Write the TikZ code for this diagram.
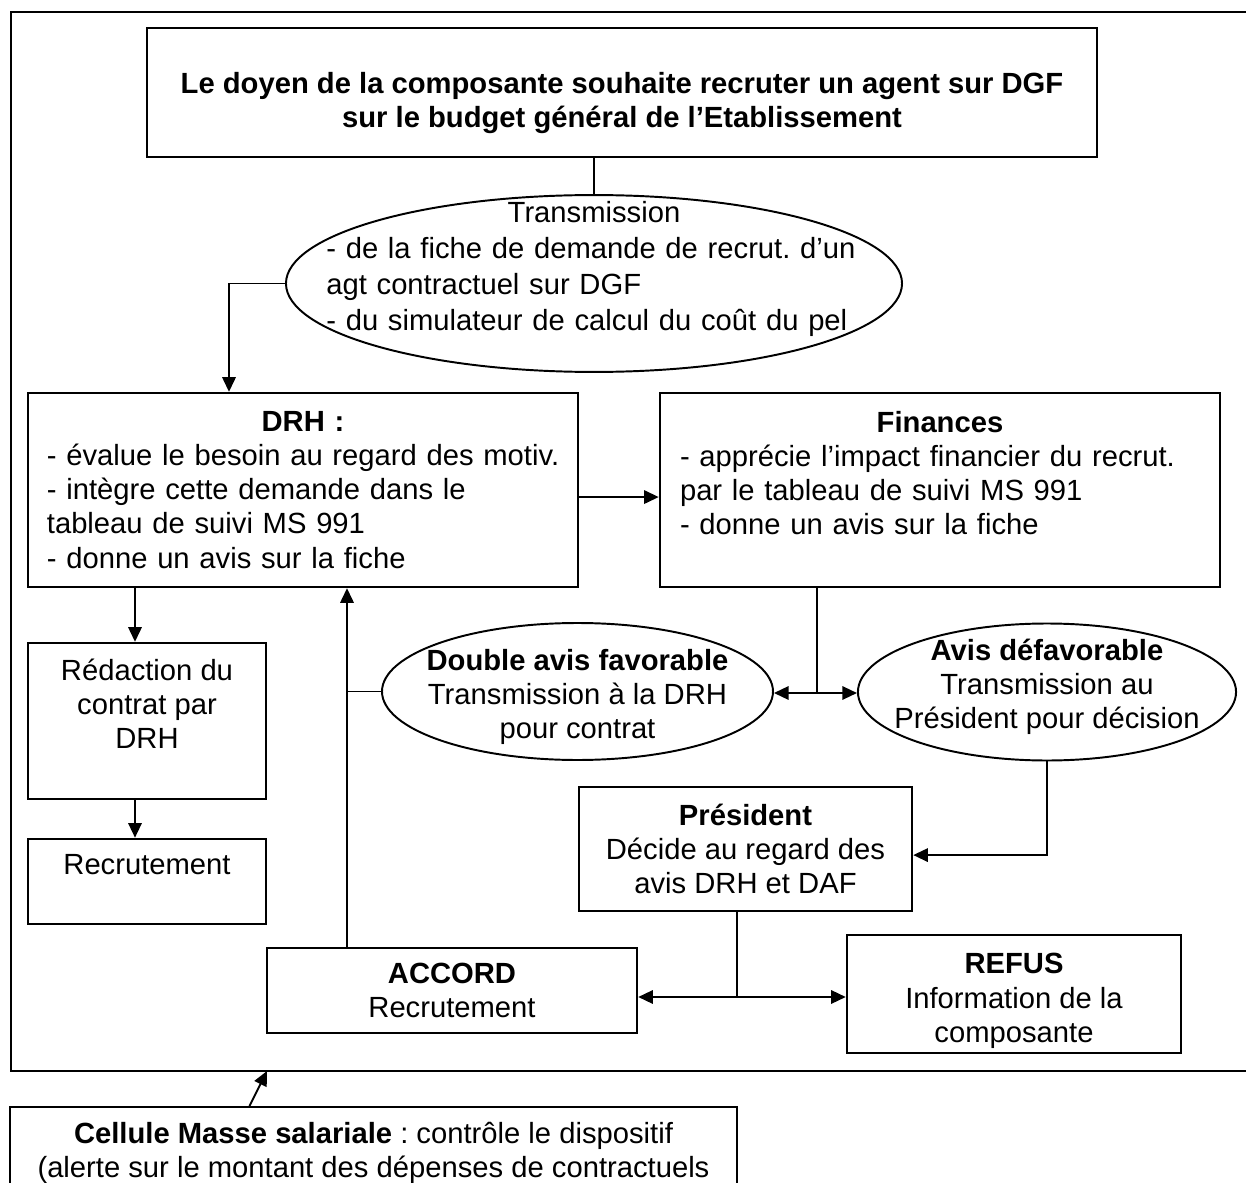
\documentclass[tikz,border=0pt]{standalone}
\usepackage{fontspec}
\setmainfont{Liberation Sans}
\usetikzlibrary{shapes.geometric, arrows.meta, calc}

\tikzset{
  boite/.style={draw, line width=1pt, align=center, font=\fontsize{12}{14}\selectfont},
  bulle/.style={draw, ellipse, line width=0.8pt, inner xsep=-30pt, inner ysep=-15pt,
    align=center, font=\fontsize{12}{14}\selectfont},
  lien/.style={line width=0.8pt},
  fleche/.style={line width=0.8pt, -{Triangle[length=6pt,width=5.5pt]}},
}

\begin{document}
\frenchspacing
\begin{tikzpicture}[x=0.411pt, y=-0.411pt]
  \useasboundingbox (0,0) rectangle (1246,1183);
  % cadre
  \draw[line width=1pt] (1246,12) -| (11,1071) -- (1246,1071);

  \node[boite, minimum width=390.5pt, minimum height=53pt,
    font=\fontsize{12}{14}\selectfont\bfseries] (doyen) at (622,92.5)
    {\rule{0pt}{17pt}Le doyen de la composante souhaite recruter un agent sur DGF\\
     sur le budget général de l’Etablissement};

  \node[bulle, minimum width=253.2pt, minimum height=72.7pt, text width=220pt,
    align=left, font=\fontsize{12}{14.8}\selectfont] (trans) at (594,283.5)
    {\makebox[\linewidth]{Transmission}\\
     - de la fiche de demande de recrut. d’un\\
     agt contractuel sur DGF\\
     - du simulateur de calcul du coût du pel\\
     \mbox{}};

  \node[boite, minimum width=226pt, minimum height=79.7pt, text width=210.5pt,
    align=left] (drh) at (303,490)
    {\makebox[\linewidth]{\textbf{DRH :}}\\
     \mbox{- évalue le besoin au regard des motiv.}\\
     - intègre cette demande dans le\\
     tableau de suivi MS 991\\
     - donne un avis sur la fiche};

  \node[boite, minimum width=230.2pt, minimum height=79.7pt, text width=213.7pt,
    align=left] (fin) at (940,490)
    {\makebox[\linewidth]{\textbf{Finances}}\\
     \mbox{- apprécie l’impact financier du recrut.}\\
     par le tableau de suivi MS 991\\
     - donne un avis sur la fiche\\
     \mbox{}};

  \node[boite, minimum width=97.8pt, minimum height=64.1pt] (redac) at (147,721)
    {Rédaction du\\ contrat par\\ DRH\\ \mbox{}};
  \node[boite, minimum width=97.8pt, minimum height=35pt] (recrut) at (147,881.5)
    {Recrutement\\ \mbox{}};

  \node[bulle, minimum width=160.7pt, minimum height=56.3pt] (dbl) at (577.5,691.5)
    {\rule{0pt}{13pt}\textbf{Double avis favorable}\\ Transmission à la DRH\\ pour contrat};
  \node[bulle, minimum width=155.4pt, minimum height=56.3pt] (avis) at (1047,692)
    {\textbf{Avis défavorable}\\ Transmission au\\ Président pour décision\rule[-6.5pt]{0pt}{6.5pt}};

  \node[boite, minimum width=136.9pt, minimum height=51pt] (pres) at (745.5,849)
    {\textbf{Président}\\ Décide au regard des\\ avis DRH et DAF};
  \node[boite, minimum width=152.1pt, minimum height=35pt] (accord) at (452,990.5)
    {\textbf{ACCORD}\\ Recrutement};
  \node[boite, minimum width=137.3pt, minimum height=48.5pt, inner ysep=1.5pt] (refus) at (1014,994)
    {\rule{0pt}{14pt}\textbf{REFUS}\\ Information de la\\ composante};

  \node[boite, anchor=north, minimum width=298.8pt, inner ysep=6pt] (cellule) at (373.5,1106)
    {\textbf{Cellule Masse salariale} : contrôle le dispositif\\
     (alerte sur le montant des dépenses de contractuels};

  % points de passage
  \coordinate (g) at (229,0);
  \coordinate (r) at (135,0);
  \coordinate (m) at (347,693);
  \coordinate (j1) at (817,693);
  \coordinate (j2) at (737,997);
  \coordinate (fb) at (267,1071);

  \draw[lien] (trans.north) -- (trans.north |- doyen.south);
  \draw[fleche] (trans.west) -| (g |- drh.north);
  \draw[fleche] ([yshift=-2.9pt]drh.east) -- ([yshift=-2.9pt]fin.west);
  \draw[fleche] (r |- drh.south) -- (r |- redac.north);
  \draw[fleche] (r |- redac.south) -- (r |- recrut.north);
  \draw[fleche] (m |- accord.north) -- (m |- drh.south);
  \draw[lien] (dbl.west) -- (dbl.west -| m);
  \draw[lien] (j1 |- fin.south) -- (j1);
  \draw[fleche] (j1) -- (j1 -| dbl.east);
  \draw[fleche] (j1) -- (j1 -| avis.west);
  \draw[fleche] (avis.south) |- ([yshift=-2.5pt]pres.east);
  \draw[lien] (j2 |- pres.south) -- (j2);
  \draw[fleche] (j2) -- (j2 -| accord.east);
  \draw[fleche] (j2) -- (j2 -| refus.west);
  \draw[fleche] ($(cellule.north west)!0.33!(cellule.north east)$) -- (fb);
\end{tikzpicture}
\end{document}
